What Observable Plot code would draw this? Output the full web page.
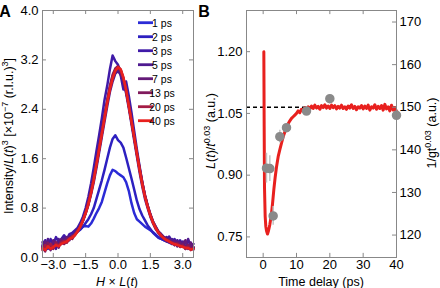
<!DOCTYPE html>
<html>
<head>
<meta charset="utf-8">
<script src="https://cdn.jsdelivr.net/npm/d3@7"></script>
<script src="https://cdn.jsdelivr.net/npm/@observablehq/plot@0.6"></script>
<style>
  html, body { margin: 0; padding: 0; background: #fff; }
  #wrap { display: flex; width: 440px; height: 288px; overflow: hidden; }
  #wrap svg { display: block; overflow: visible; }
</style>
</head>
<body>
<div id="wrap"></div>
<script>
// ---------- Panel A data ----------
const H = [-3.5,-3.375,-3.25,-3.125,-3.0,-2.875,-2.75,-2.625,-2.5,-2.375,-2.25,-2.125,-2.0,-1.875,-1.75,-1.625,-1.5,-1.375,-1.25,-1.125,-1.0,-0.875,-0.75,-0.625,-0.5,-0.375,-0.25,-0.125,0.0,0.125,0.25,0.375,0.5,0.625,0.75,0.875,1.0,1.125,1.25,1.375,1.5,1.625,1.75,1.875,2.0,2.125,2.25,2.375,2.5,2.625,2.75,2.875,3.0,3.125,3.25,3.375,3.5];
const legendLabels = ["1 ps","2 ps","3 ps","5 ps","7 ps","13 ps","20 ps","40 ps"];
const seriesColors = ["#2b2bd6","#2d20c0","#3f1aa8","#4e1a90","#641a78","#801a5c","#a41c44","#e8201e"];
const p1  = [0.16,0.2,0.14,0.18,0.22,0.19,0.24,0.26,0.25,0.3,0.33,0.35,0.38,0.42,0.46,0.5,0.51,0.5,0.55,0.63,0.72,0.8,0.9,1.05,1.2,1.33,1.42,1.4,1.36,1.33,1.3,1.22,1.08,0.88,0.72,0.62,0.58,0.54,0.5,0.47,0.44,0.41,0.37,0.33,0.3,0.28,0.27,0.25,0.23,0.22,0.2,0.21,0.18,0.17,0.19,0.15,0.16];
const p2  = [0.18,0.14,0.2,0.17,0.22,0.2,0.25,0.23,0.28,0.3,0.32,0.36,0.4,0.42,0.45,0.5,0.56,0.62,0.7,0.8,0.95,1.1,1.25,1.42,1.6,1.78,1.92,1.98,1.9,1.86,1.78,1.62,1.45,1.28,1.1,0.92,0.78,0.68,0.6,0.52,0.46,0.4,0.36,0.32,0.3,0.28,0.26,0.24,0.22,0.23,0.2,0.19,0.2,0.17,0.18,0.15,0.16];
const p3  = [0.2,0.28,0.15,0.3,0.22,0.33,0.25,0.3,0.36,0.3,0.38,0.4,0.44,0.48,0.56,0.66,0.8,0.98,1.2,1.45,1.72,1.98,2.25,2.55,2.78,3.05,3.27,3.18,3.12,2.95,2.72,2.85,2.62,2.35,2.05,1.75,1.48,1.22,1.0,0.84,0.7,0.58,0.5,0.42,0.38,0.33,0.3,0.34,0.26,0.3,0.22,0.28,0.2,0.26,0.18,0.24,0.15];
const p5  = [0.25,0.12,0.3,0.18,0.26,0.14,0.3,0.22,0.32,0.25,0.35,0.33,0.4,0.45,0.52,0.6,0.72,0.85,1.02,1.22,1.45,1.7,1.95,2.2,2.45,2.68,2.85,2.98,3.02,2.96,2.84,2.66,2.42,2.16,1.9,1.64,1.38,1.15,0.95,0.8,0.66,0.55,0.46,0.4,0.36,0.3,0.33,0.25,0.3,0.2,0.28,0.18,0.26,0.14,0.3,0.17,0.22];
const p7  = [0.14,0.26,0.2,0.12,0.28,0.22,0.16,0.3,0.22,0.33,0.28,0.36,0.38,0.44,0.5,0.6,0.73,0.88,1.06,1.27,1.5,1.76,2.02,2.28,2.52,2.74,2.92,3.03,3.06,3.0,2.88,2.7,2.46,2.2,1.94,1.68,1.43,1.2,1.0,0.83,0.68,0.57,0.48,0.4,0.34,0.32,0.26,0.3,0.22,0.27,0.18,0.25,0.2,0.28,0.14,0.24,0.13];
const p13 = [0.18,0.1,0.24,0.16,0.14,0.25,0.2,0.26,0.22,0.28,0.32,0.3,0.37,0.43,0.5,0.61,0.74,0.9,1.08,1.3,1.53,1.78,2.04,2.3,2.55,2.78,2.96,3.06,3.1,3.04,2.9,2.7,2.47,2.22,1.96,1.7,1.45,1.22,1.01,0.84,0.7,0.58,0.49,0.42,0.37,0.33,0.29,0.27,0.25,0.22,0.24,0.19,0.21,0.16,0.2,0.14,0.17];
const p20 = [0.12,0.2,0.16,0.22,0.15,0.22,0.19,0.24,0.27,0.24,0.3,0.34,0.36,0.42,0.49,0.59,0.71,0.86,1.05,1.26,1.5,1.75,2.0,2.27,2.52,2.75,2.93,3.04,3.08,3.03,2.9,2.71,2.47,2.21,1.95,1.69,1.44,1.21,1.0,0.83,0.69,0.57,0.48,0.41,0.36,0.31,0.29,0.25,0.24,0.2,0.22,0.17,0.19,0.14,0.17,0.12,0.15];
const p40 = [0.15,0.12,0.18,0.14,0.17,0.2,0.18,0.22,0.24,0.26,0.3,0.32,0.36,0.42,0.5,0.6,0.72,0.86,1.04,1.25,1.5,1.75,2.0,2.25,2.5,2.72,2.9,3.02,3.08,3.05,2.92,2.72,2.45,2.2,1.95,1.68,1.42,1.18,0.98,0.82,0.68,0.56,0.47,0.4,0.35,0.31,0.28,0.26,0.23,0.22,0.2,0.19,0.17,0.16,0.15,0.13,0.14];
const seriesA = [p1,p2,p3,p5,p7,p13,p20,p40];
const xTicksA = [-3.0,-1.5,0.0,1.5,3.0];
const yTicksA = [0.0,0.8,1.6,2.4,3.2,4.0];

// ---------- Panel B data ----------
const tLine = [0.2,0.3,0.4,0.6,0.8,1.0,1.3,1.6,2.0,2.4,2.8,3.2,3.6,4.0,4.5,5.0,5.5,6.0,6.5,7.0,7.5,8.0,8.5,9.0,9.5,
  10,10.5,11,11.5,12,12.5,13,13.5,14,14.5,15,15.5,16,16.5,17,17.5,18,18.5,19,19.5,20,20.5,21,21.5,22,22.5,23,23.5,24,24.5,25,25.5,26,26.5,27,27.5,28,28.5,29,29.5,30,30.5,31,31.5,32,32.5,33,33.5,34,34.5,35,35.5,36,36.5,37,37.5,38,38.5,39,39.5,40];
const vLine = [1.20,1.02,0.87,0.80,0.775,0.765,0.757,0.765,0.78,0.80,0.83,0.865,0.895,0.92,0.945,0.962,0.978,0.993,1.005,1.016,1.025,1.032,1.038,1.042,1.046,
  1.050,1.056,1.052,1.060,1.057,1.064,1.059,1.066,1.061,1.068,1.062,1.070,1.063,1.067,1.060,1.069,1.064,1.071,1.063,1.068,1.062,1.070,1.064,1.069,1.061,1.067,1.063,1.070,1.062,1.066,1.060,1.068,1.063,1.071,1.062,1.067,1.059,1.066,1.063,1.069,1.061,1.068,1.062,1.070,1.058,1.066,1.063,1.071,1.060,1.067,1.062,1.069,1.058,1.072,1.061,1.066,1.056,1.070,1.058,1.064,1.055];
const tPts = [1,2,3,5,7,13,20,40];
const gPts = [135.7,135.6,124.5,143.1,145.2,149.1,152.0,148.1];
const gErr = [3.5,3.0,2.2,1.5,1.0,0.8,0.8,0.8];
const dashLevel = 150;
const xTicksB = [0,10,20,30,40];
const yTicksB = [0.75,0.90,1.05,1.20];
const rTicksB = [120,130,140,150,160,170];

// right-axis (1/gt^0.03) to left-axis (L(t)/t^0.03) mapping
const toLeft = r => 1.065 + (r - 150) * 0.01035;
const toRight = l => 150 + (l - 1.065) / 0.01035;

const FONT = "'Liberation Sans', Arial, sans-serif";
const frameColor = "#888";

// ---------- Panel A ----------
const rowsA = [];
seriesA.forEach((vals, i) => vals.forEach((v, j) => rowsA.push({s: legendLabels[i], h: H[j], v})));

const plotA = Plot.plot({
  width: 200, height: 288,
  marginLeft: 42, marginRight: 7, marginTop: 10, marginBottom: 31,
  x: {domain: [-3.5, 3.5]},
  y: {domain: [0, 4]},
  color: {domain: legendLabels, range: seriesColors},
  style: {fontFamily: FONT, fontSize: "13px", color: "black", background: "white", overflow: "visible"},
  marks: [
    Plot.line(rowsA, {x: "h", y: "v", z: "s", stroke: "s", strokeWidth: 2.5, strokeLinejoin: "round"}),
    Plot.frame({stroke: frameColor}),
    Plot.ruleX(xTicksA, {y1: 0, y2: 0.065, stroke: frameColor}),
    Plot.ruleX(xTicksA, {y1: 4, y2: 3.935, stroke: frameColor}),
    Plot.ruleY(yTicksA, {x1: -3.5, x2: -3.315, stroke: frameColor}),
    Plot.ruleY(yTicksA, {x1: 3.5, x2: 3.315, stroke: frameColor}),
    Plot.axisX(xTicksA, {tickSize: 0, tickPadding: 2, tickFormat: d3.format(".1f"), label: null}),
    Plot.axisY(yTicksA, {tickSize: 0, tickPadding: 4, tickFormat: d3.format(".1f"), label: null})
  ]
});

// ---------- Panel B ----------
const lineRows = tLine.map((t, i) => ({t, v: vLine[i]}));
const ptRows = tPts.map((t, i) => ({t, g: gPts[i], e: gErr[i]}));

const plotB = Plot.plot({
  width: 240, height: 288,
  marginLeft: 46, marginRight: 44, marginTop: 10, marginBottom: 31,
  x: {domain: [-5, 40]},
  y: {domain: [0.7, 1.3]},
  style: {fontFamily: FONT, fontSize: "13px", color: "black", background: "white", overflow: "visible"},
  marks: [
    Plot.ruleY([toLeft(dashLevel)], {stroke: "black", strokeWidth: 1.5, strokeDasharray: "4,3"}),
    Plot.line(lineRows, {x: "t", y: "v", stroke: "#e8201e", strokeWidth: 3, strokeLinejoin: "round"}),
    Plot.ruleX(ptRows, {x: "t", y1: d => toLeft(d.g - d.e), y2: d => toLeft(d.g + d.e), stroke: "#c4c4c4", strokeWidth: 1.5}),
    Plot.dot(ptRows, {x: "t", y: d => toLeft(d.g), r: 4, fill: "#8a8a8a", stroke: "#8a8a8a"}),
    Plot.frame({stroke: frameColor}),
    Plot.ruleX(xTicksB, {y1: 0.7, y2: 0.71, stroke: frameColor}),
    Plot.ruleX(xTicksB, {y1: 1.3, y2: 1.29, stroke: frameColor}),
    Plot.ruleY(yTicksB, {x1: -5, x2: -3.8, stroke: frameColor}),
    Plot.ruleY(rTicksB.map(toLeft), {x1: 40, x2: 38.8, stroke: frameColor}),
    Plot.axisX(xTicksB, {tickSize: 0, tickPadding: 2, tickFormat: d3.format("d"), label: null}),
    Plot.axisY(yTicksB, {tickSize: 0, tickPadding: 4, tickFormat: d3.format(".2f"), label: null}),
    Plot.axisY(rTicksB.map(toLeft), {anchor: "right", tickSize: 0, tickPadding: 3, tickFormat: d => String(Math.round(toRight(d))), label: null})
  ]
});

document.getElementById("wrap").append(plotA, plotB);

// ---------- text overlays (labels with italics / superscripts, legend) ----------
function rich(sel, parts, size) {
  // parts: [text, flags] flags: "i" italic, "s" superscript
  let shifted = false;
  parts.forEach(([txt, f = ""]) => {
    const ts = sel.append("tspan").text(txt);
    if (f.includes("i")) ts.attr("font-style", "italic");
    if (f.includes("s")) {
      ts.attr("font-size", Math.round(size * 0.68) + "px");
      if (!shifted) { ts.attr("dy", -size * 0.42); shifted = true; }
    } else if (shifted) {
      ts.attr("dy", size * 0.42); shifted = false;
    }
  });
  return sel;
}

const sA = d3.select(plotA);
sA.append("text").attr("x", 5).attr("y", 17).attr("font-weight", "bold").attr("font-size", "16px").attr("font-family", FONT).text("A");
rich(sA.append("text").attr("transform", "translate(13,136) rotate(-90)").attr("text-anchor", "middle")
  .attr("font-family", FONT).attr("font-size", "12.5px"),
  [["Intensity/"],["L","i"],["("],["t","i"],[")"],["3","s"],[" [×10"],["−7","s"],[" (r.l.u.)"],["3","s"],["]"]], 12.5);
rich(sA.append("text").attr("x", 117).attr("y", 285.5).attr("text-anchor", "middle")
  .attr("font-family", FONT).attr("font-size", "12.5px"),
  [["H","i"],[" × "],["L","i"],["("],["t","i"],[")"]], 12.5);

const leg = sA.append("g").attr("font-family", FONT).attr("font-size", "10.5px");
legendLabels.forEach((lab, i) => {
  const y = 22.7 + 14 * i;
  leg.append("line").attr("x1", 138).attr("x2", 153).attr("y1", y).attr("y2", y)
    .attr("stroke", seriesColors[i]).attr("stroke-width", 2.8);
  leg.append("text").attr("x", 162).attr("y", y + 3.8).text(lab);
});

const sB = d3.select(plotB);
sB.append("text").attr("x", 4).attr("y", 17).attr("font-weight", "bold").attr("font-size", "16px").attr("font-family", FONT).text("B");
rich(sB.append("text").attr("transform", "translate(15,131) rotate(-90)").attr("text-anchor", "middle")
  .attr("font-family", FONT).attr("font-size", "12.5px"),
  [["L","i"],["("],["t","i"],[")/"],["t","i"],["0.03","s"],[" (a.u.)"]], 12.5);
rich(sB.append("text").attr("transform", "translate(236,133) rotate(-90)").attr("text-anchor", "middle")
  .attr("font-family", FONT).attr("font-size", "12.5px"),
  [["1/gt"],["0.03","s"],[" (a.u.)"]], 12.5);
sB.append("text").attr("x", 121).attr("y", 285.5).attr("text-anchor", "middle")
  .attr("font-family", FONT).attr("font-size", "12.5px").text("Time delay (ps)");
</script>
</body>
</html>
